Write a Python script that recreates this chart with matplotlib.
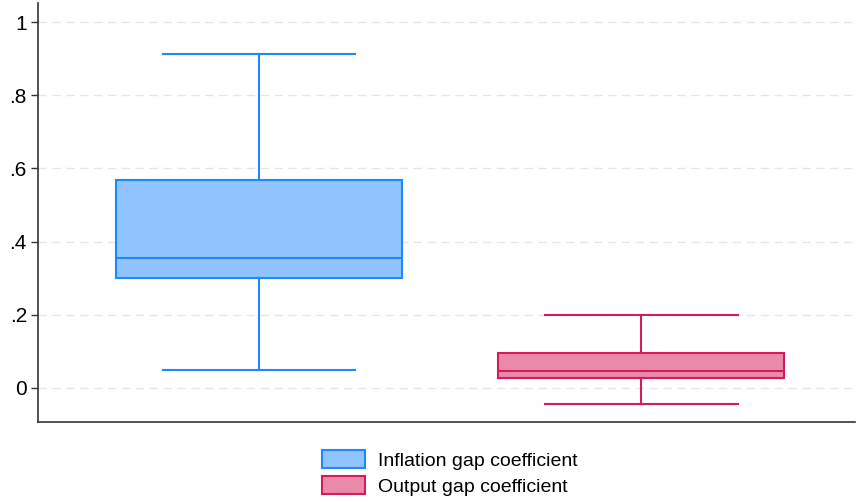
import matplotlib
matplotlib.use("Agg")
import matplotlib.pyplot as plt
from matplotlib.patches import Patch

plt.rcParams['font.family'] = ['Liberation Sans', 'DejaVu Sans']

# box summary per coefficient: lower whisker, q1, median, q3, upper whisker
labels = ["Inflation gap coefficient", "Output gap coefficient"]
whislo = [0.049, -0.044]
q1 = [0.300, 0.027]
med = [0.355, 0.046]
q3 = [0.568, 0.096]
whishi = [0.913, 0.200]

fills = ["#90C3FF", "#E98AAA"]
edges = ["#1E88FF", "#D41C5C"]

yticks = [0, 0.2, 0.4, 0.6, 0.8, 1]
yticklabels = ["0", ".2", ".4", ".6", ".8", "1"]

fig = plt.figure(figsize=(8.56, 5.03), dpi=100)
ax = fig.add_axes([38 / 856, 81 / 503, 817 / 856, 419 / 503])

for i in range(len(labels)):
    stats = [dict(whislo=whislo[i], q1=q1[i], med=med[i], q3=q3[i],
                  whishi=whishi[i], fliers=[])]
    c = edges[i]
    ax.bxp(stats, positions=[i + 1], widths=0.75, patch_artist=True,
           showfliers=False,
           boxprops=dict(facecolor=fills[i], edgecolor=c, linewidth=1.5),
           medianprops=dict(color=c, linewidth=1.5),
           whiskerprops=dict(color=c, linewidth=1.5),
           capprops=dict(color=c, linewidth=1.5),
           capwidths=0.505, zorder=3)

ax.set_xlim(0.4215, 2.56)
ax.set_ylim(-0.093, 1.052)
ax.set_yticks(yticks)
ax.set_yticklabels(yticklabels, fontsize=15)
ax.set_xticks([])
ax.grid(axis='y', color='#E6E6E6', linestyle=(0, (6, 4)), linewidth=1, zorder=0)
ax.spines['top'].set_visible(False)
ax.spines['right'].set_visible(False)
for s in ['left', 'bottom']:
    ax.spines[s].set_color('#333333')
    ax.spines[s].set_linewidth(1.2)
ax.tick_params(axis='y', length=5, width=1, color='#333333', pad=3)

handles = [Patch(facecolor=fills[i], edgecolor=edges[i], linewidth=1.5)
           for i in range(len(labels))]
fig.legend(handles, labels, loc='center', bbox_to_anchor=(450 / 856, 1 - 473 / 503),
           frameon=False, fontsize=14, handlelength=2.2, handleheight=1.0,
           labelspacing=0.35, handletextpad=0.67, borderpad=0)

fig.savefig("out.png", dpi=100)
